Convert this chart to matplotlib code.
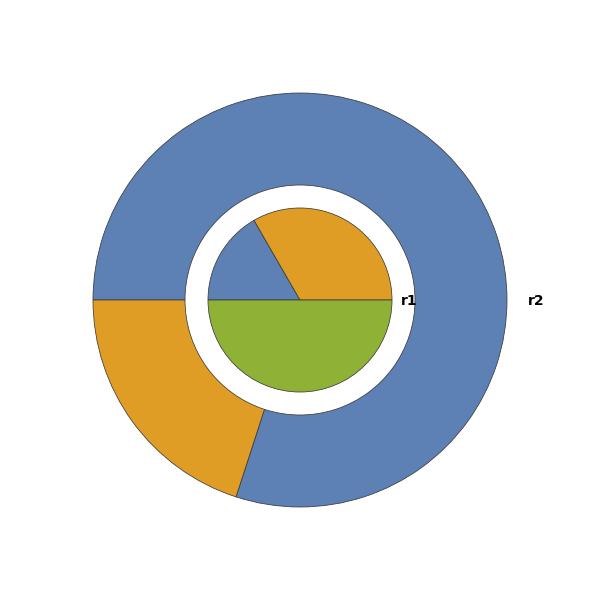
import matplotlib
matplotlib.use("Agg")
import matplotlib.pyplot as plt

# data
inner_labels = ["a", "b", "c"]
inner_values = [1, 2, 3]
outer_labels = ["x", "y"]
outer_values = [4, 1]
ring_names = ["r1", "r2"]

blue = "#5d80b5"
orange = "#e09d25"
green = "#8fb236"
inner_colors = [blue, orange, green]
outer_colors = [blue, orange]

fig = plt.figure(figsize=(6, 6), dpi=100)
ax = fig.add_axes([0, 0, 1, 1])

R_out = 207
R_ring_in = 115
R_in = 92
edge = dict(edgecolor="#3a3a3a", linewidth=0.55)

ax.pie(outer_values, colors=outer_colors, radius=R_out, startangle=180,
       counterclock=False, wedgeprops=dict(width=R_out - R_ring_in, **edge))
ax.pie(inner_values, colors=inner_colors, radius=R_in, startangle=180,
       counterclock=False, wedgeprops=dict(**edge))

ax.text(109, -1, ring_names[0], ha="center", va="center", fontsize=10, fontweight="bold")
ax.text(236, -1, ring_names[1], ha="center", va="center", fontsize=10, fontweight="bold")

ax.set_xlim(-300, 300)
ax.set_ylim(-300, 300)
ax.set_aspect("equal")
ax.axis("off")
fig.savefig("out.png", dpi=100)
